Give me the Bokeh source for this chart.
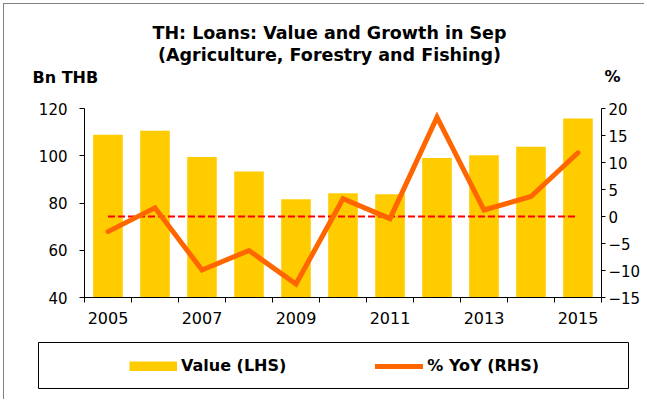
from bokeh.plotting import figure
from bokeh.layouts import column
from bokeh.models import Range1d, LinearAxis, FixedTicker, Legend, LegendItem
from bokeh.core.properties import value
from bokeh.embed import file_html
from bokeh.resources import INLINE

# ---- data ----
years = [2005, 2006, 2007, 2008, 2009, 2010, 2011, 2012, 2013, 2014, 2015]
loan_value_bn_thb = [108.9, 110.6, 99.5, 93.3, 81.6, 84.1, 83.7, 99.1, 100.2, 103.8, 115.8]
yoy_growth_pct = [-2.8, 1.6, -9.9, -6.3, -12.5, 3.3, -0.4, 18.4, 1.2, 3.7, 11.8]
zero_ref_x = [2005, 2015]
zero_ref_y = [0, 0]
x_label_years = [2005, 2007, 2009, 2011, 2013, 2015]
left_ticks = [40, 60, 80, 100, 120]
right_ticks = [-15, -10, -5, 0, 5, 10, 15, 20]

title_line1 = "TH: Loans: Value and Growth in Sep"
title_line2 = "(Agriculture, Forestry and Fishing)"
left_unit = "Bn THB"
right_unit = "%"
bar_label = "Value (LHS)"
line_label = "% YoY (RHS)"

BAR = "#FFCC00"
LINE = "#FF6600"
ZERO = "#FF0000"
FONT = "DejaVu Sans"
W = 640
NAN = float("nan")


def blank_canvas(height):
    f = figure(width=W, height=height, output_backend="svg", toolbar_location=None,
               title=None,
               x_range=Range1d(0, W), y_range=Range1d(height, 0),
               x_axis_location=None, y_axis_location=None, min_border=0,
               frame_align=False)
    f.grid.visible = False
    f.outline_line_color = None
    f.background_fill_color = "white"
    f.border_fill_color = "white"
    return f


# ---- header: titles and unit labels (positions in canvas pixels) ----
HEAD_H = 87
head = blank_canvas(HEAD_H)
head.text(x=[325, 325], y=[28, 50], text=[title_line1, title_line2],
          text_align="center", text_baseline="alphabetic",
          text_font=value(FONT), text_font_style="bold",
          text_font_size="17.5px", text_color="black")
head.text(x=[28, 600], y=[73, 72], text=[left_unit, right_unit],
          text_align="left", text_baseline="alphabetic",
          text_font=value(FONT), text_font_style="bold",
          text_font_size="16px", text_color="black")

# ---- main chart ----
boundaries = [y - 0.5 for y in years] + [years[-1] + 0.5]

p = figure(width=W, height=244, output_backend="svg", toolbar_location=None,
           title=None,
           x_range=Range1d(years[0] - 0.5, years[-1] + 0.5),
           y_range=Range1d(40, 120),
           min_border_left=80, min_border_right=43,
           min_border_top=17, min_border_bottom=38, frame_align=False)
p.xgrid.visible = False
p.ygrid.visible = False
p.outline_line_color = None
p.background_fill_color = "white"
p.border_fill_color = "white"

xa = p.xaxis[0]
xa.ticker = FixedTicker(ticks=x_label_years, minor_ticks=boundaries)
xa.major_tick_out = 0
xa.major_tick_in = 0
xa.minor_tick_out = 5
xa.minor_tick_in = 0
xa.axis_line_color = "black"
xa.minor_tick_line_color = "black"
xa.major_label_text_font = FONT
xa.major_label_text_font_size = "16px"
xa.major_label_text_color = "black"
xa.major_label_standoff = 9

ya = p.yaxis[0]
ya.ticker = FixedTicker(ticks=left_ticks)
ya.major_tick_out = 5
ya.major_tick_in = 0
ya.minor_tick_out = 0
ya.minor_tick_in = 0
ya.axis_line_color = "black"
ya.major_tick_line_color = "black"
ya.major_label_text_font = FONT
ya.major_label_text_font_size = "15px"
ya.major_label_text_color = "black"
ya.major_label_standoff = 12

p.extra_y_ranges = {"pct": Range1d(-15, 20)}
ra = LinearAxis(y_range_name="pct", ticker=FixedTicker(ticks=right_ticks))
ra.major_tick_out = 4
ra.major_tick_in = 0
ra.minor_tick_out = 0
ra.minor_tick_in = 0
ra.axis_line_color = "black"
ra.major_tick_line_color = "black"
ra.major_label_text_font = FONT
ra.major_label_text_font_size = "15px"
ra.major_label_text_color = "black"
ra.major_label_standoff = 3
p.add_layout(ra, "right")

p.vbar(x=years, top=loan_value_bn_thb, bottom=0, width=0.63,
       fill_color=BAR, line_color=None)
p.line(zero_ref_x, zero_ref_y, y_range_name="pct", line_color=ZERO,
       line_width=2, line_dash="7 3")
p.line(years, yoy_growth_pct, y_range_name="pct", line_color=LINE,
       line_width=5, line_join="miter", line_cap="round")

# ---- footer: legend ----
FOOT_H = 64
foot = blank_canvas(FOOT_H)
foot.quad(left=[34], right=[624], top=[7], bottom=[53],
          fill_color=None, line_color="black", line_width=1)
bar_proxy = foot.line(x=[NAN], y=[NAN], line_color=BAR, line_width=10, line_cap="butt")
line_proxy = foot.line(x=[NAN], y=[NAN], line_color=LINE, line_width=5, line_cap="round")
legend = Legend(items=[LegendItem(label=bar_label, renderers=[bar_proxy], index=0),
                       LegendItem(label=line_label, renderers=[line_proxy], index=0)],
                orientation="horizontal", location=(125, 24),
                padding=0, margin=0, spacing=89,
                glyph_width=48, glyph_height=10, label_standoff=4,
                border_line_alpha=0, background_fill_alpha=0,
                label_text_font=FONT, label_text_font_style="bold",
                label_text_font_size="16px", label_text_color="black")
foot.add_layout(legend)

layout = column(head, p, foot, spacing=0,
                styles={"margin-left": "3px", "margin-top": "3px",
                        "border-left": "1px solid #808080",
                        "border-top": "1px solid #808080"})

open("out.html", "w").write(file_html(layout, INLINE))
